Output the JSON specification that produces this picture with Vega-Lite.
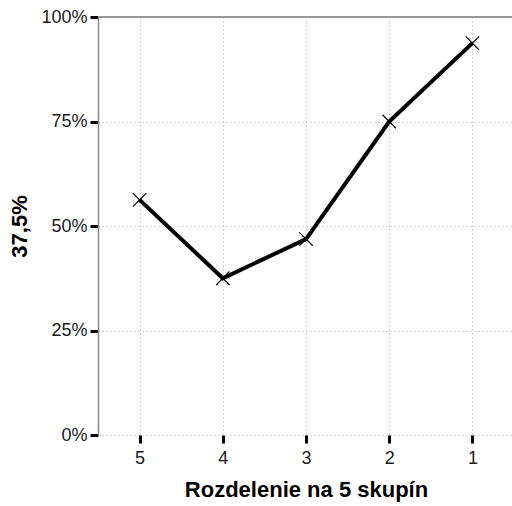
{
  "$schema": "https://vega.github.io/schema/vega-lite/v6.json",
  "autosize": {"type": "none"},
  "width": 416,
  "height": 418,
  "padding": {"left": 98, "top": 17, "right": 0, "bottom": 71},
  "background": "white",
  "config": {
    "view": {"stroke": null},
    "font": "Liberation Sans"
  },
  "data": {
    "values": [
      {"group": "5", "value": 0.5625},
      {"group": "4", "value": 0.375},
      {"group": "3", "value": 0.46875},
      {"group": "2", "value": 0.75},
      {"group": "1", "value": 0.9375}
    ]
  },
  "layer": [
    {
      "mark": {"type": "line", "color": "#000000", "strokeWidth": 4},
      "encoding": {
        "x": {
          "field": "group", "type": "ordinal", "sort": ["5", "4", "3", "2", "1"],
          "title": "Rozdelenie na 5 skupín",
          "axis": {
            "labelAngle": 0, "domain": false, "grid": true, "labelPadding": 6, "titlePadding": 12,
            "labelFont": "Liberation Sans", "labelFontSize": 18, "labelColor": "#1a1a1a",
            "titleFont": "Liberation Sans", "titleFontSize": 22, "titleFontWeight": "bold", "titleColor": "#000000",
            "tickColor": "#000000", "tickWidth": 3, "tickSize": 8,
            "gridColor": "#aaaaaa", "gridDash": [1, 3], "gridWidth": 1.2
          }
        },
        "y": {
          "field": "value", "type": "quantitative",
          "scale": {"domain": [0, 1]},
          "title": "37,5%",
          "axis": {
            "format": ".0%", "values": [0, 0.25, 0.5, 0.75, 1], "grid": true,
            "domainColor": "#888888", "domainWidth": 1.5, "labelPadding": 3, "titlePadding": 9,
            "labelFont": "Liberation Sans", "labelFontSize": 18, "labelColor": "#1a1a1a",
            "titleFont": "Liberation Sans", "titleFontSize": 22, "titleFontWeight": "bold", "titleColor": "#000000",
            "tickColor": "#000000", "tickWidth": 3, "tickSize": 8,
            "gridColor": "#aaaaaa", "gridDash": [1, 3], "gridWidth": 1.2
          }
        }
      }
    },
    {
      "mark": {"type": "rule", "color": "#999999", "strokeWidth": 1.5},
      "encoding": {"y": {"datum": 1, "type": "quantitative"}}
    },
    {
      "mark": {"type": "point", "shape": "M-1,-1L1,1M-1,1L1,-1", "filled": false, "color": "#000000", "strokeWidth": 1.2, "size": 180, "opacity": 1},
      "encoding": {
        "x": {"field": "group", "type": "ordinal", "sort": ["5", "4", "3", "2", "1"]},
        "y": {"field": "value", "type": "quantitative"}
      }
    }
  ]
}
